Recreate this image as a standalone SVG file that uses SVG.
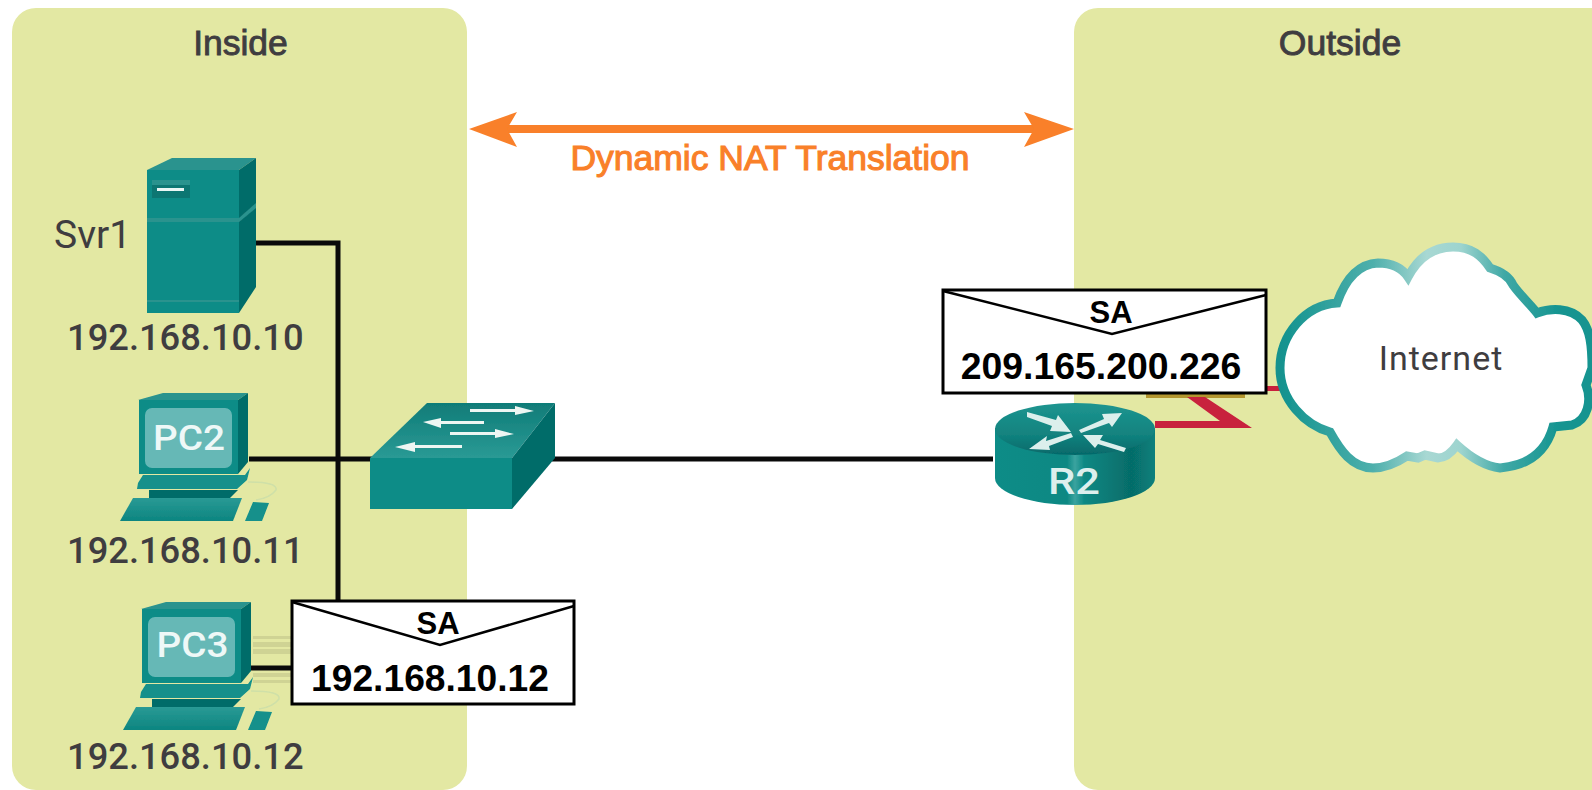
<svg xmlns="http://www.w3.org/2000/svg" width="1592" height="790" viewBox="0 0 1592 790">
<style>
.zone{fill:#e3e8a3}
.t{font-family:Roboto,"Liberation Sans",sans-serif;fill:#3f3d40}
.h{font-family:"Liberation Sans",Arial,sans-serif;font-size:35.5px;fill:#3f3d40;stroke:#3f3d40;stroke-width:.9;text-anchor:middle}
.ip{font-size:36.3px;font-weight:500}
.env{fill:#fff;stroke:#000;stroke-width:3}
.flap{fill:none;stroke:#000;stroke-width:2.5}
.b{font-family:"Liberation Sans",Arial,sans-serif;font-weight:700;fill:#000;text-anchor:middle}
.link{fill:none;stroke:#0a0a0a;stroke-width:5}
.tf{fill:#0a8c87}.tl{fill:#2a938e}.td{fill:#066c69}.tm{fill:#12908b}
.pl{font-family:Roboto,"Liberation Sans",sans-serif;font-size:35px;font-weight:500;fill:#eef8f7;text-anchor:middle}
.wa{fill:#eef6f3}
.soft{filter:url(#soft)}
</style>
<defs>
<filter id="soft" x="-5%" y="-5%" width="110%" height="110%"><feGaussianBlur stdDeviation=".7"/></filter>
<linearGradient id="rtop" x1="0" x2="0" y1="0" y2="1"><stop offset="0" stop-color="#1d9590"/><stop offset=".6" stop-color="#12837f"/><stop offset="1" stop-color="#05696a"/></linearGradient>
<linearGradient id="rbody" x1="0" x2="1" y1="0" y2="0"><stop offset="0" stop-color="#0a8c87"/><stop offset=".45" stop-color="#0b8883"/><stop offset=".5" stop-color="#3aa39f"/><stop offset=".56" stop-color="#0b8883"/><stop offset=".85" stop-color="#066c69"/><stop offset="1" stop-color="#08807c"/></linearGradient>
<linearGradient id="swt" x1="0" x2="0" y1="0" y2="1"><stop offset="0" stop-color="#107c78"/><stop offset="1" stop-color="#2a9a95"/></linearGradient>
<linearGradient id="cl" x1="0" x2="1" y1="0" y2="0"><stop offset="0" stop-color="#12928e"/><stop offset=".3" stop-color="#4fb0ac"/><stop offset=".47" stop-color="#a8d8d3"/><stop offset=".58" stop-color="#9dd4cf"/><stop offset=".72" stop-color="#3fa8a5"/><stop offset=".9" stop-color="#149490"/></linearGradient>
<linearGradient id="kb" x1="0" x2="0" y1="0" y2="1"><stop offset="0" stop-color="#2a9a95"/><stop offset="1" stop-color="#0c8580"/></linearGradient>
<g id="pc">
<polygon class="tl" points="138,400 163,393 248,393 238,400"/>
<polygon class="td" points="238,400 248,393 248,462 238,474"/>
<rect class="tf" x="139" y="400" width="99" height="74"/>
<rect x="145" y="408" width="87" height="60" rx="7" fill="#66b8b6"/>
<polygon class="tm" points="143,475 245,475 250,468 247,480 237,489 137,489 138,483"/>
<polygon class="td" points="149,490 238,490 230,498 149,498"/>
<polygon fill="url(#kb)" points="133,498 242,498 233,521 120,521"/>
<polygon class="tm" points="245,521 253,502 269,503 262,521"/>
<path d="M248,482 Q278,482 276,490 Q270,498 256,500" fill="none" stroke="#cfe0a8" stroke-width="1.5"/>
</g>
</defs>
<rect class="zone" x="12" y="8" width="455" height="782" rx="24"/>
<rect class="zone" x="1074" y="8" width="540" height="782" rx="24"/>
<g id="connectors">
<path class="link" d="M256,243 H338 V602"/>
<path class="link" d="M249,459 H372"/>
<path class="link" d="M552,459 H993"/>
<g fill="#cfd394"><rect x="253" y="636" width="40" height="3"/><rect x="253" y="642" width="40" height="5"/><rect x="253" y="649" width="40" height="5"/><rect x="253" y="673" width="40" height="4"/><rect x="253" y="680" width="40" height="3"/></g>
<path class="link" d="M250,668 H294"/>
<rect x="1146" y="392" width="99" height="6" fill="#b3962e"/>
<polygon class="soft" points="1155,421 1220,421 1187,397 1205,397 1252,428 1155,428" fill="#c8203c"/>
<rect x="1264" y="386" width="20" height="5" fill="#c8203c"/>
<g id="nat-arrow" class="soft"><path d="M505,129 H1036" stroke="#f98029" stroke-width="8" fill="none"/><path d="M469,129 L517,112 L507,129 L517,147Z M1074,129 L1024,112 L1034,129 L1024,147Z" fill="#f98029"/></g>
</g>
<g id="inside-label"><text class="h" x="240.5" y="55">Inside</text></g>
<g id="outside-label"><text class="h" x="1340" y="55">Outside</text></g>
<text x="770" y="170" text-anchor="middle" font-family="'Liberation Sans',Arial,sans-serif" font-size="35.5" stroke="#f98029" stroke-width="1.1" fill="#f98029">Dynamic NAT Translation</text>
<g id="svr1">
<g class="soft">
<polygon class="tl" points="147,170 172,158 256,158 239,170"/>
<polygon class="td" points="239,170 256,158 256,287 239,313"/>
<rect class="tf" x="147" y="170" width="92" height="143"/>
<polygon fill="#2a938e" points="147,218 239,218 256,203 256,208 239,222 147,222"/>
<rect x="147" y="300" width="92" height="2" fill="#2a938e"/>
<rect x="152" y="180" width="38" height="18" fill="#0a7672"/>
<rect x="152" y="180" width="38" height="5" fill="#2a938e"/>
<rect x="157" y="188" width="27" height="3" fill="#eaf6f4"/>
</g>
<text class="t" x="54" y="248" font-size="39" font-weight="400">Svr1</text>
<text class="t ip" x="67" y="350">192.168.10.10</text>
</g>
<g id="pc2">
<use href="#pc" class="soft"/>
<text class="pl" x="189" y="450" textLength="72" lengthAdjust="spacingAndGlyphs">PC2</text>
<text class="t ip" x="67" y="563">192.168.10.11</text>
</g>
<g id="pc3">
<use href="#pc" x="3" y="209" class="soft"/>
<text class="pl" x="192.5" y="657" textLength="72" lengthAdjust="spacingAndGlyphs">PC3</text>
<text class="t ip" x="67" y="769">192.168.10.12</text>
</g>
<g id="switch">
<g class="soft">
<polygon fill="url(#swt)" points="370,458 427,403 555,403 512,458"/>
<polygon class="td" points="512,458 555,403 555,458 512,509"/>
<rect class="tf" x="370" y="458" width="142" height="51"/>
<g class="wa">
<polygon points="470,409 515,409 515,406 534,411 515,415 515,412 470,412"/>
<polygon points="423,422 441,418 441,421 484,421 484,424 441,424 441,428"/>
<polygon points="450,432 495,432 495,429 514,434 495,438 495,435 450,435"/>
<polygon points="395,447 415,442 415,445 462,445 462,448 415,448 415,452"/>
</g>
</g>
</g>
<g id="r2">
<g class="soft">
<path d="M995,428 V478 A80,27 0 0 0 1155,478 V428Z" fill="url(#rbody)"/>
<ellipse cx="1075" cy="429" rx="80" ry="26" fill="url(#rtop)"/>
<g fill="#dcefec">
<polygon points="1027,412 1056,420 1058,415 1071,432 1050,431 1052,426 1027,417"/>
<polygon points="1079,430 1104,419 1102,414 1122,413 1112,427 1109,423 1081,433"/>
<polygon points="1071,433 1046,441 1047,436 1029,449 1050,450 1049,446 1073,437"/>
<polygon points="1083,435 1103,435 1100,440 1126,448 1124,452 1098,444 1095,448"/>
</g>
</g>
<text x="1074" y="494" text-anchor="middle" font-family="Roboto,'Liberation Sans',sans-serif" font-size="36" font-weight="500" fill="#dcefed" textLength="52" lengthAdjust="spacingAndGlyphs">R2</text>
</g>
<g id="internet">
<path class="soft" d="M1280,368 C1280,335 1305,305 1337,303 C1345,280 1358,264 1378,263 C1392,263 1402,268 1408,277 C1418,258 1432,247 1453,247 C1472,247 1482,256 1490,268 C1503,272 1510,278 1513,285 C1520,295 1530,304 1537,313 C1550,308 1570,307 1582,320 C1590,330 1592,345 1592,368 L1586,385 C1592,400 1588,420 1572,425 L1553,427 C1548,445 1535,465 1500,468 C1482,466 1468,455 1457,445 C1452,452 1445,458 1438,458 L1425,455 L1418,458 L1407,456 C1398,462 1385,468 1373,468 C1352,468 1340,450 1330,432 C1305,425 1280,400 1280,368Z" fill="#fff" stroke="url(#cl)" stroke-width="9"/>
<text class="t" x="1441" y="370" text-anchor="middle" font-size="34" font-weight="400" letter-spacing="1">Internet</text>
</g>
<g id="packet-inside">
<rect class="env" x="292" y="601" width="282" height="103"/>
<path class="flap" d="M292,602 L440,645 L574,606"/>
<text class="b" x="438" y="634" font-size="31">SA</text>
<text class="b" x="430" y="691" font-size="37.2">192.168.10.12</text>
</g>
<g id="packet-outside">
<rect class="env" x="943" y="290" width="323" height="103"/>
<path class="flap" d="M943,291 L1112,334 L1266,295"/>
<text class="b" x="1111" y="323" font-size="31">SA</text>
<text class="b" x="1101" y="379" font-size="37.4">209.165.200.226</text>
</g>
</svg>
